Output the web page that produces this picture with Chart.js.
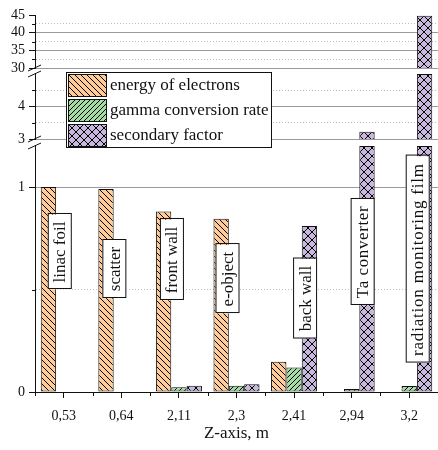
<!DOCTYPE html>
<html>
<head>
<meta charset="utf-8">
<script src="https://cdn.jsdelivr.net/npm/chart.js@4/dist/chart.umd.min.js"></script>
<style>
  html, body { margin: 0; padding: 0; background: #fff; }
  #wrap { width: 438px; height: 450px; }
</style>
</head>
<body>
<div id="wrap"><canvas id="chart"></canvas></div>
<script>
// values
const categories = ['0,53', '0,64', '2,11', '2,3', '2,41', '2,94', '3,2'];
const energyOfElectrons = [1.0, 0.99, 0.88, 0.845, 0.148, 0.003, 0];
const gammaConversionRate = [0, 0, 0.023, 0.031, 0.119, 0.015, 0.029];
const secondaryFactor = [0, 0, 0.031, 0.038, 0.81, 3.22, 44.8];
const seriesNames = ['energy of electrons', 'gamma conversion rate', 'secondary factor'];
const pointNames = ['linac foil', 'scatter', 'front wall', 'e-object', 'back wall', 'Ta converter', 'radiation monitoring film'];

// broken y axis: three pieces [min, max]
const lowRange = [0, 1.2];
const midRange = [3, 5];
const highRange = [30, 45];
const lowTicks = [0, 1];
const midTicks = [3, 4];
const highTicks = [30, 35, 40, 45];

// where the name boxes sit (pixel shift from category centre, height on the low axis)
const nameBoxes = [
  { dx: -4, y: 0.683, spacing: 0 },
  { dx: -7, y: 0.60, spacing: 0 },
  { dx: -7, y: 0.644, spacing: 0 },
  { dx: -9, y: 0.551, spacing: 0 },
  { dx: 11, y: 0.456, spacing: 0 },
  { dx: 11, y: 0.683, spacing: 0.6 },
  { dx: 8.5, y: 0.646, spacing: 0.8 }
];

const SERIF = "'Liberation Serif', 'Times New Roman', serif";

function hatch(color, kind, size) {
  const c = document.createElement('canvas');
  c.width = c.height = size;
  const g = c.getContext('2d');
  g.fillStyle = color;
  g.fillRect(0, 0, size, size);
  g.strokeStyle = '#000';
  g.lineWidth = 1;
  g.beginPath();
  if (kind !== '/') {
    g.moveTo(0, 0); g.lineTo(size, size);
    g.moveTo(-1, size - 1); g.lineTo(1, size + 1);
    g.moveTo(size - 1, -1); g.lineTo(size + 1, 1);
  }
  if (kind !== '\\') {
    g.moveTo(0, size); g.lineTo(size, 0);
    g.moveTo(-1, 1); g.lineTo(1, -1);
    g.moveTo(size - 1, size + 1); g.lineTo(size + 1, size - 1);
  }
  g.stroke();
  return g.createPattern(c, 'repeat');
}

const fills = [
  hatch('#FFCC99', '\\', 6),
  hatch('#A3DDA3', '/', 5),
  hatch('#C9B8DD', 'x', 8)
];
const allSeries = [energyOfElectrons, gammaConversionRate, secondaryFactor];

function piece(values, range) {
  return values.map(v => v > range[0] ? Math.min(v, range[1]) : null);
}

const pieces = [['yLow', lowRange], ['yMid', midRange], ['yHigh', highRange]];
const datasets = [];
allSeries.forEach((vals, s) => {
  pieces.forEach(([axis, range]) => {
    datasets.push({
      label: seriesNames[s],
      data: piece(vals, range),
      yAxisID: axis,
      stack: 's' + s,
      backgroundColor: fills[s],
      borderColor: '#111',
      borderWidth: 1,
      borderSkipped: false,
      categoryPercentage: 0.8,
      barPercentage: 1.0
    });
  });
});

function pieceAxis(range, labelled, step, weight) {
  const isMajor = v => labelled.some(t => Math.abs(t - v) < 1e-9);
  return {
    type: 'linear',
    position: 'left',
    stack: 'y',
    stackWeight: weight,
    stacked: false,
    min: range[0],
    max: range[1],
    afterFit: s => { s.width = 35; },
    ticks: {
      stepSize: step,
      autoSkip: false,
      includeBounds: false,
      padding: 4,
      color: '#111',
      font: { family: SERIF, size: 14 },
      callback: v => isMajor(v) ? String(v) : ''
    },
    grid: {
      tickLength: 6,
      tickColor: ctx => ctx.tick && isMajor(ctx.tick.value) ? '#111' : 'rgba(0,0,0,0)',
      color: ctx => {
        if (!ctx.tick) return '#999';
        const v = ctx.tick.value;
        if (v >= range[1] - 1e-9 || v <= 0) return 'rgba(0,0,0,0)';
        return isMajor(v) ? '#9a9a9a' : '#bdbdbd';
      }
    },
    border: {
      color: '#111',
      width: 1,
      dash: ctx => (ctx.tick && !isMajor(ctx.tick.value)) ? [1, 2] : []
    }
  };
}

function gapAxis(weight) {
  return {
    type: 'linear',
    position: 'left',
    stack: 'y',
    stackWeight: weight,
    min: 0, max: 1,
    afterFit: s => { s.width = 35; },
    ticks: { display: false },
    grid: { display: false, drawTicks: false },
    border: { display: false }
  };
}

const decorations = {
  id: 'decorations',
  afterDatasetsDraw(chart) {
    const ctx = chart.ctx;
    const x = chart.scales.x, yl = chart.scales.yLow;
    ctx.save();
    ctx.font = '17px ' + SERIF;
    ctx.textAlign = 'center';
    ctx.textBaseline = 'middle';
    pointNames.forEach((name, i) => {
      const b = nameBoxes[i];
      ctx.letterSpacing = b.spacing + 'px';
      const w = ctx.measureText(name).width;
      const cx = x.getPixelForValue(i) + b.dx;
      const cy = yl.getPixelForValue(b.y);
      const len = w + 14;
      ctx.save();
      ctx.translate(cx, cy);
      ctx.rotate(-Math.PI / 2);
      ctx.fillStyle = '#fff';
      ctx.fillRect(-len / 2, -12, len, 24);
      ctx.strokeStyle = '#111';
      ctx.lineWidth = 1;
      ctx.strokeRect(Math.round(-len / 2) + 0.5, -11.5, Math.round(len), 23);
      ctx.fillStyle = '#111';
      ctx.fillText(name, 0, 1);
      ctx.restore();
    });
    ctx.restore();
  },
  afterDraw(chart) {
    const ctx = chart.ctx;
    const x = chart.scales.x;
    const left = chart.chartArea.left;
    ctx.save();
    ctx.strokeStyle = '#111';
    ctx.lineWidth = 1;
    // minor ticks on x (category edges)
    ctx.beginPath();
    for (let i = 0; i <= categories.length; i++) {
      const px = Math.round(x.getPixelForValue(i - 0.5)) + 0.5;
      ctx.moveTo(px, x.top);
      ctx.lineTo(px, x.top + 4);
    }
    // minor ticks on y pieces
    [['yLow', [0.5]], ['yMid', [3.5, 4.5]], ['yHigh', [32.5, 37.5, 42.5]]].forEach(([id, vals]) => {
      vals.forEach(v => {
        const py = Math.round(chart.scales[id].getPixelForValue(v)) + 0.5;
        ctx.moveTo(left - 3, py);
        ctx.lineTo(left, py);
      });
    });
    ctx.stroke();
    // break marks
    ['yHigh', 'yMid'].forEach(id => {
      const s = chart.scales[id];
      const below = id === 'yHigh' ? chart.scales.yMid : chart.scales.yLow;
      [s.bottom, below.top].forEach(py => {
        ctx.beginPath();
        ctx.moveTo(left - 7, py + 3);
        ctx.lineTo(left + 6, py - 3);
        ctx.stroke();
      });
    });
    // legend
    const lx = 66, ly = 72, lw = 205, rowH = 25;
    ctx.fillStyle = '#fff';
    ctx.fillRect(lx, ly, lw, rowH * 3);
    ctx.strokeRect(lx + 0.5, ly + 0.5, lw, rowH * 3);
    ctx.font = '17px ' + SERIF;
    ctx.textBaseline = 'middle';
    ctx.textAlign = 'left';
    seriesNames.forEach((name, i) => {
      const ry = ly + 1 + i * rowH;
      ctx.fillStyle = fills[i];
      ctx.fillRect(lx + 2, ry + 1, 38, rowH - 3);
      ctx.strokeRect(lx + 2.5, ry + 1.5, 38, rowH - 3);
      ctx.fillStyle = '#111';
      ctx.fillText(name, lx + 44, ry + rowH / 2);
    });
    ctx.restore();
  }
};

new Chart(document.getElementById('chart'), {
  type: 'bar',
  data: { labels: categories, datasets },
  options: {
    responsive: true,
    maintainAspectRatio: false,
    animation: false,
    layout: { padding: { left: 0, right: -5, top: 15, bottom: 0 } },
    plugins: { legend: { display: false }, tooltip: { enabled: false } },
    scales: {
      x: {
        afterFit: s => { s.height = 58; },
        grid: { offset: false, drawOnChartArea: false, tickLength: 6, tickColor: '#111' },
        border: { color: '#111', width: 1 },
        ticks: { color: '#111', padding: 10, font: { family: SERIF, size: 14 } },
        title: {
          display: true,
          text: 'Z-axis, m',
          color: '#111',
          font: { family: SERIF, size: 17 },
          padding: { top: 4, bottom: 6 }
        }
      },
      yLow: pieceAxis(lowRange, lowTicks, 0.5, 246),
      gapLow: gapAxis(7),
      yMid: pieceAxis(midRange, midTicks, 0.5, 65),
      gapHigh: gapAxis(6),
      yHigh: pieceAxis(highRange, highTicks, 2.5, 53)
    }
  },
  plugins: [decorations]
});
</script>
</body>
</html>
